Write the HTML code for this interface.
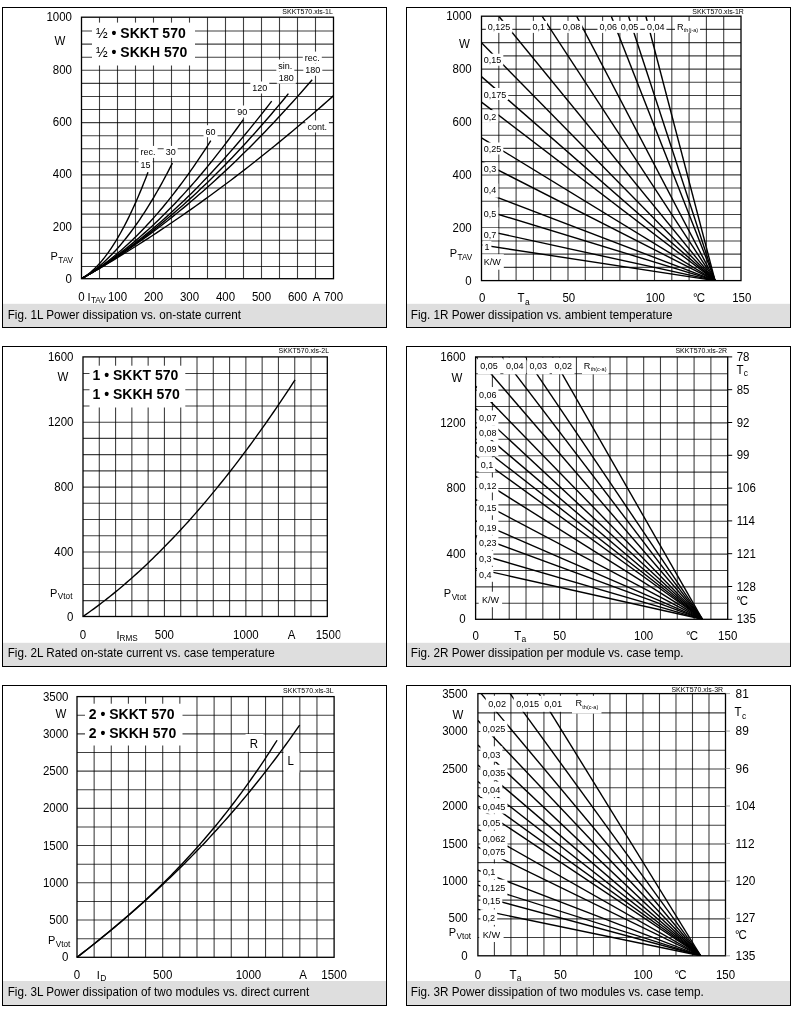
<!DOCTYPE html>
<html><head><meta charset="utf-8"><style>
html,body{margin:0;padding:0;background:#fff;}
svg{display:block;will-change:transform;}
text{font-family:"Liberation Sans", sans-serif;fill:#000;}
</style></head><body>
<svg width="793" height="1010" viewBox="0 0 793 1010">
<rect x="0" y="0" width="793" height="1010" fill="#fff"/>
<rect x="3" y="303.8" width="383" height="23.2" fill="#dedede"/>
<rect x="2.5" y="7.5" width="384" height="320" fill="none" stroke="#000" stroke-width="1"/>
<text transform="translate(7.7 318.7) scale(1 1.04)" font-size="11.7">Fig. 1L Power dissipation vs. on-state current</text>
<text transform="translate(332.8 14.3) scale(1 1.07)" font-size="7" text-anchor="end">SKKT570.xls-1L</text>
<line x1="99.5" y1="17.2" x2="99.5" y2="278.7" stroke="#000" stroke-width="1.1" stroke-opacity="0.75"/>
<line x1="117.5" y1="17.2" x2="117.5" y2="278.7" stroke="#000" stroke-width="1.1" stroke-opacity="0.75"/>
<line x1="135.5" y1="17.2" x2="135.5" y2="278.7" stroke="#000" stroke-width="1.1" stroke-opacity="0.75"/>
<line x1="153.5" y1="17.2" x2="153.5" y2="278.7" stroke="#000" stroke-width="1.1" stroke-opacity="0.75"/>
<line x1="171.5" y1="17.2" x2="171.5" y2="278.7" stroke="#000" stroke-width="1.1" stroke-opacity="0.75"/>
<line x1="189.5" y1="17.2" x2="189.5" y2="278.7" stroke="#000" stroke-width="1.1" stroke-opacity="0.75"/>
<line x1="207.5" y1="17.2" x2="207.5" y2="278.7" stroke="#000" stroke-width="1.1" stroke-opacity="0.75"/>
<line x1="225.5" y1="17.2" x2="225.5" y2="278.7" stroke="#000" stroke-width="1.1" stroke-opacity="0.75"/>
<line x1="243.5" y1="17.2" x2="243.5" y2="278.7" stroke="#000" stroke-width="1.1" stroke-opacity="0.75"/>
<line x1="261.5" y1="17.2" x2="261.5" y2="278.7" stroke="#000" stroke-width="1.1" stroke-opacity="0.75"/>
<line x1="279.5" y1="17.2" x2="279.5" y2="278.7" stroke="#000" stroke-width="1.1" stroke-opacity="0.75"/>
<line x1="297.5" y1="17.2" x2="297.5" y2="278.7" stroke="#000" stroke-width="1.1" stroke-opacity="0.75"/>
<line x1="315.5" y1="17.2" x2="315.5" y2="278.7" stroke="#000" stroke-width="1.1" stroke-opacity="0.75"/>
<line x1="81.5" y1="31.07" x2="333.5" y2="31.07" stroke="#000" stroke-width="1.1" stroke-opacity="0.75"/>
<line x1="81.5" y1="44.15" x2="333.5" y2="44.15" stroke="#000" stroke-width="1.1" stroke-opacity="0.75"/>
<line x1="81.5" y1="57.22" x2="333.5" y2="57.22" stroke="#000" stroke-width="1.1" stroke-opacity="0.75"/>
<line x1="81.5" y1="70.3" x2="333.5" y2="70.3" stroke="#000" stroke-width="1.1" stroke-opacity="0.75"/>
<line x1="81.5" y1="83.38" x2="333.5" y2="83.38" stroke="#000" stroke-width="1.1" stroke-opacity="0.75"/>
<line x1="81.5" y1="96.45" x2="333.5" y2="96.45" stroke="#000" stroke-width="1.1" stroke-opacity="0.75"/>
<line x1="81.5" y1="109.53" x2="333.5" y2="109.53" stroke="#000" stroke-width="1.1" stroke-opacity="0.75"/>
<line x1="81.5" y1="122.6" x2="333.5" y2="122.6" stroke="#000" stroke-width="1.1" stroke-opacity="0.75"/>
<line x1="81.5" y1="135.68" x2="333.5" y2="135.68" stroke="#000" stroke-width="1.1" stroke-opacity="0.75"/>
<line x1="81.5" y1="148.75" x2="333.5" y2="148.75" stroke="#000" stroke-width="1.1" stroke-opacity="0.75"/>
<line x1="81.5" y1="161.82" x2="333.5" y2="161.82" stroke="#000" stroke-width="1.1" stroke-opacity="0.75"/>
<line x1="81.5" y1="174.9" x2="333.5" y2="174.9" stroke="#000" stroke-width="1.1" stroke-opacity="0.75"/>
<line x1="81.5" y1="187.97" x2="333.5" y2="187.97" stroke="#000" stroke-width="1.1" stroke-opacity="0.75"/>
<line x1="81.5" y1="201.05" x2="333.5" y2="201.05" stroke="#000" stroke-width="1.1" stroke-opacity="0.75"/>
<line x1="81.5" y1="214.12" x2="333.5" y2="214.12" stroke="#000" stroke-width="1.1" stroke-opacity="0.75"/>
<line x1="81.5" y1="227.2" x2="333.5" y2="227.2" stroke="#000" stroke-width="1.1" stroke-opacity="0.75"/>
<line x1="81.5" y1="240.28" x2="333.5" y2="240.28" stroke="#000" stroke-width="1.1" stroke-opacity="0.75"/>
<line x1="81.5" y1="253.35" x2="333.5" y2="253.35" stroke="#000" stroke-width="1.1" stroke-opacity="0.75"/>
<line x1="81.5" y1="266.43" x2="333.5" y2="266.43" stroke="#000" stroke-width="1.1" stroke-opacity="0.75"/>
<clipPath id="c1l"><rect x="81.5" y="17.2" width="252" height="261.5"/></clipPath>
<path d="M81.5 278.7 L82.63 278.05 L83.75 277.35 L84.88 276.62 L86.01 275.85 L87.13 275.04 L88.26 274.18 L89.39 273.29 L90.52 272.36 L91.64 271.39 L92.77 270.38 L93.9 269.33 L95.02 268.24 L96.15 267.11 L97.28 265.94 L98.4 264.73 L99.53 263.48 L100.66 262.2 L101.79 260.87 L102.91 259.5 L104.04 258.09 L105.17 256.65 L106.29 255.16 L107.42 253.63 L108.55 252.07 L109.67 250.46 L110.8 248.82 L111.93 247.13 L113.06 245.41 L114.18 243.64 L115.31 241.84 L116.44 240 L117.56 238.11 L118.69 236.19 L119.82 234.23 L120.94 232.22 L122.07 230.18 L123.2 228.1 L124.33 225.98 L125.45 223.82 L126.58 221.62 L127.71 219.38 L128.83 217.1 L129.96 214.78 L131.09 212.42 L132.21 210.02 L133.34 207.58 L134.47 205.1 L135.6 202.59 L136.72 200.03 L137.85 197.43 L138.98 194.79 L140.1 192.12 L141.23 189.4 L142.36 186.64 L143.48 183.85 L144.61 181.01 L145.74 178.14 L146.87 175.22 L147.99 172.27" fill="none" stroke="#000" stroke-width="1.4" stroke-linejoin="round" clip-path="url(#c1l)"/>
<path d="M81.5 278.7 L83.04 277.82 L84.58 276.89 L86.12 275.93 L87.66 274.94 L89.2 273.91 L90.74 272.84 L92.28 271.73 L93.83 270.58 L95.37 269.4 L96.91 268.18 L98.45 266.93 L99.99 265.64 L101.53 264.31 L103.07 262.94 L104.61 261.54 L106.15 260.1 L107.69 258.62 L109.23 257.1 L110.77 255.55 L112.31 253.96 L113.85 252.34 L115.39 250.67 L116.94 248.97 L118.48 247.23 L120.02 245.46 L121.56 243.65 L123.1 241.8 L124.64 239.91 L126.18 237.99 L127.72 236.03 L129.26 234.04 L130.8 232 L132.34 229.93 L133.88 227.82 L135.42 225.68 L136.96 223.49 L138.51 221.28 L140.05 219.02 L141.59 216.73 L143.13 214.4 L144.67 212.03 L146.21 209.62 L147.75 207.18 L149.29 204.7 L150.83 202.19 L152.37 199.63 L153.91 197.04 L155.45 194.42 L156.99 191.75 L158.53 189.05 L160.07 186.31 L161.62 183.54 L163.16 180.73 L164.7 177.88 L166.24 174.99 L167.78 172.07 L169.32 169.1 L170.86 166.11 L172.4 163.07" fill="none" stroke="#000" stroke-width="1.4" stroke-linejoin="round" clip-path="url(#c1l)"/>
<path d="M81.5 278.7 L83.69 277.45 L85.88 276.16 L88.08 274.83 L90.27 273.47 L92.46 272.07 L94.65 270.63 L96.84 269.16 L99.03 267.64 L101.23 266.09 L103.42 264.5 L105.61 262.88 L107.8 261.21 L109.99 259.51 L112.18 257.77 L114.38 256 L116.57 254.18 L118.76 252.33 L120.95 250.44 L123.14 248.52 L125.33 246.55 L127.53 244.55 L129.72 242.51 L131.91 240.44 L134.1 238.32 L136.29 236.17 L138.48 233.98 L140.68 231.76 L142.87 229.49 L145.06 227.19 L147.25 224.85 L149.44 222.48 L151.64 220.06 L153.83 217.61 L156.02 215.12 L158.21 212.6 L160.4 210.03 L162.59 207.43 L164.79 204.79 L166.98 202.12 L169.17 199.4 L171.36 196.65 L173.55 193.86 L175.74 191.04 L177.94 188.17 L180.13 185.27 L182.32 182.33 L184.51 179.35 L186.7 176.34 L188.89 173.29 L191.09 170.2 L193.28 167.07 L195.47 163.91 L197.66 160.71 L199.85 157.47 L202.05 154.19 L204.24 150.88 L206.43 147.53 L208.62 144.14 L210.81 140.71" fill="none" stroke="#000" stroke-width="1.4" stroke-linejoin="round" clip-path="url(#c1l)"/>
<path d="M81.5 278.7 L84.24 277.14 L86.98 275.54 L89.73 273.9 L92.47 272.22 L95.21 270.5 L97.95 268.75 L100.69 266.95 L103.44 265.11 L106.18 263.24 L108.92 261.33 L111.66 259.37 L114.41 257.38 L117.15 255.35 L119.89 253.28 L122.63 251.17 L125.37 249.02 L128.12 246.84 L130.86 244.61 L133.6 242.34 L136.34 240.04 L139.08 237.69 L141.83 235.31 L144.57 232.89 L147.31 230.43 L150.05 227.93 L152.79 225.39 L155.54 222.81 L158.28 220.19 L161.02 217.53 L163.76 214.84 L166.51 212.1 L169.25 209.33 L171.99 206.51 L174.73 203.66 L177.47 200.77 L180.22 197.83 L182.96 194.86 L185.7 191.86 L188.44 188.81 L191.18 185.72 L193.93 182.59 L196.67 179.43 L199.41 176.22 L202.15 172.98 L204.89 169.69 L207.64 166.37 L210.38 163.01 L213.12 159.61 L215.86 156.17 L218.61 152.69 L221.35 149.17 L224.09 145.61 L226.83 142.01 L229.57 138.38 L232.32 134.7 L235.06 130.99 L237.8 127.24 L240.54 123.44 L243.28 119.61" fill="none" stroke="#000" stroke-width="1.4" stroke-linejoin="round" clip-path="url(#c1l)"/>
<path d="M81.5 278.7 L84.72 276.87 L87.95 274.99 L91.17 273.08 L94.39 271.13 L97.62 269.13 L100.84 267.1 L104.06 265.02 L107.29 262.9 L110.51 260.75 L113.74 258.55 L116.96 256.31 L120.18 254.03 L123.41 251.71 L126.63 249.35 L129.85 246.95 L133.08 244.51 L136.3 242.03 L139.52 239.51 L142.75 236.94 L145.97 234.34 L149.19 231.69 L152.42 229.01 L155.64 226.29 L158.86 223.52 L162.09 220.71 L165.31 217.87 L168.54 214.98 L171.76 212.05 L174.98 209.08 L178.21 206.07 L181.43 203.02 L184.65 199.93 L187.88 196.8 L191.1 193.63 L194.32 190.42 L197.55 187.17 L200.77 183.87 L203.99 180.54 L207.22 177.16 L210.44 173.75 L213.66 170.29 L216.89 166.8 L220.11 163.26 L223.34 159.68 L226.56 156.07 L229.78 152.41 L233.01 148.71 L236.23 144.97 L239.45 141.19 L242.68 137.37 L245.9 133.51 L249.12 129.61 L252.35 125.66 L255.57 121.68 L258.79 117.66 L262.02 113.59 L265.24 109.49 L268.46 105.34 L271.69 101.16" fill="none" stroke="#000" stroke-width="1.4" stroke-linejoin="round" clip-path="url(#c1l)"/>
<path d="M81.5 278.7 L85.01 276.71 L88.51 274.68 L92.02 272.61 L95.53 270.5 L99.03 268.35 L102.54 266.16 L106.05 263.93 L109.55 261.66 L113.06 259.36 L116.57 257.01 L120.07 254.62 L123.58 252.2 L127.09 249.73 L130.59 247.23 L134.1 244.69 L137.61 242.1 L141.11 239.48 L144.62 236.82 L148.13 234.11 L151.63 231.37 L155.14 228.59 L158.65 225.77 L162.15 222.91 L165.66 220.01 L169.17 217.07 L172.67 214.1 L176.18 211.08 L179.69 208.02 L183.19 204.92 L186.7 201.79 L190.21 198.61 L193.71 195.4 L197.22 192.14 L200.73 188.85 L204.23 185.52 L207.74 182.14 L211.25 178.73 L214.75 175.28 L218.26 171.79 L221.77 168.25 L225.27 164.68 L228.78 161.07 L232.29 157.43 L235.79 153.74 L239.3 150.01 L242.81 146.24 L246.31 142.43 L249.82 138.59 L253.33 134.7 L256.83 130.77 L260.34 126.81 L263.85 122.8 L267.35 118.76 L270.86 114.68 L274.37 110.55 L277.87 106.39 L281.38 102.19 L284.89 97.95 L288.39 93.66" fill="none" stroke="#000" stroke-width="1.4" stroke-linejoin="round" clip-path="url(#c1l)"/>
<path d="M81.5 278.7 L85.41 276.48 L89.32 274.22 L93.23 271.93 L97.14 269.59 L101.05 267.21 L104.96 264.79 L108.87 262.34 L112.78 259.84 L116.69 257.3 L120.6 254.73 L124.51 252.11 L128.42 249.46 L132.33 246.76 L136.24 244.02 L140.15 241.25 L144.06 238.43 L147.97 235.58 L151.88 232.68 L155.79 229.75 L159.7 226.78 L163.61 223.76 L167.52 220.71 L171.43 217.61 L175.34 214.48 L179.25 211.31 L183.16 208.09 L187.07 204.84 L190.98 201.55 L194.89 198.22 L198.8 194.84 L202.71 191.43 L206.62 187.98 L210.53 184.49 L214.44 180.96 L218.35 177.39 L222.26 173.78 L226.17 170.13 L230.08 166.44 L233.99 162.7 L237.9 158.93 L241.81 155.12 L245.72 151.28 L249.63 147.39 L253.54 143.46 L257.45 139.49 L261.36 135.48 L265.27 131.43 L269.18 127.34 L273.09 123.21 L277 119.05 L280.91 114.84 L284.82 110.59 L288.73 106.3 L292.64 101.98 L296.55 97.61 L300.46 93.2 L304.37 88.75 L308.28 84.27 L312.19 79.74" fill="none" stroke="#000" stroke-width="1.4" stroke-linejoin="round" clip-path="url(#c1l)"/>
<path d="M81.5 278.7 L85.89 276.22 L90.29 273.71 L94.68 271.18 L99.07 268.62 L103.47 266.04 L107.86 263.43 L112.25 260.79 L116.65 258.14 L121.04 255.45 L125.43 252.74 L129.83 250.01 L134.22 247.25 L138.61 244.47 L143.01 241.66 L147.4 238.82 L151.79 235.97 L156.18 233.08 L160.58 230.17 L164.97 227.24 L169.36 224.28 L173.76 221.29 L178.15 218.28 L182.54 215.25 L186.94 212.19 L191.33 209.1 L195.72 205.99 L200.12 202.85 L204.51 199.69 L208.9 196.51 L213.3 193.3 L217.69 190.06 L222.08 186.8 L226.48 183.51 L230.87 180.2 L235.26 176.87 L239.66 173.5 L244.05 170.12 L248.44 166.71 L252.84 163.27 L257.23 159.81 L261.62 156.32 L266.02 152.81 L270.41 149.27 L274.8 145.71 L279.19 142.12 L283.59 138.51 L287.98 134.87 L292.37 131.2 L296.77 127.52 L301.16 123.8 L305.55 120.06 L309.95 116.3 L314.34 112.51 L318.73 108.7 L323.13 104.86 L327.52 101 L331.91 97.11 L336.31 93.19 L340.7 89.25" fill="none" stroke="#000" stroke-width="1.4" stroke-linejoin="round" clip-path="url(#c1l)"/>
<rect x="92" y="22.6" width="103" height="42.9" fill="#fff"/>
<text x="96" y="38.4" font-size="14" font-weight="bold"><tspan font-weight="normal">½</tspan> • SKKT 570</text>
<text x="96" y="57.4" font-size="14" font-weight="bold"><tspan font-weight="normal">½</tspan> • SKKH 570</text>
<rect x="138.6" y="145.9" width="19" height="12" fill="#fff"/>
<text transform="translate(140.6 155.4) scale(1 1.07)" font-size="9">rec.</text>
<rect x="138.6" y="158.3" width="14.01" height="12" fill="#fff"/>
<text transform="translate(140.6 167.8) scale(1 1.07)" font-size="9">15</text>
<rect x="163.7" y="145.9" width="14.01" height="12" fill="#fff"/>
<text transform="translate(165.7 155.4) scale(1 1.07)" font-size="9">30</text>
<rect x="203.5" y="125.2" width="14.01" height="12" fill="#fff"/>
<text transform="translate(205.5 134.7) scale(1 1.07)" font-size="9">60</text>
<rect x="235.3" y="105.5" width="14.01" height="12" fill="#fff"/>
<text transform="translate(237.3 115) scale(1 1.07)" font-size="9">90</text>
<rect x="250.3" y="81.5" width="19.01" height="12" fill="#fff"/>
<text transform="translate(252.3 91) scale(1 1.07)" font-size="9">120</text>
<rect x="276.3" y="59.5" width="18" height="12" fill="#fff"/>
<text transform="translate(278.3 69) scale(1 1.07)" font-size="9">sin.</text>
<rect x="276.8" y="71.7" width="19.01" height="12" fill="#fff"/>
<text transform="translate(278.8 81.2) scale(1 1.07)" font-size="9">180</text>
<rect x="302.8" y="51.6" width="19" height="12" fill="#fff"/>
<text transform="translate(304.8 61.1) scale(1 1.07)" font-size="9">rec.</text>
<rect x="303.3" y="63.8" width="19.01" height="12" fill="#fff"/>
<text transform="translate(305.3 73.3) scale(1 1.07)" font-size="9">180</text>
<rect x="305.4" y="120.4" width="23.51" height="12" fill="#fff"/>
<text transform="translate(307.4 129.9) scale(1 1.07)" font-size="9">cont.</text>
<rect x="81.5" y="17.2" width="252" height="261.5" fill="none" stroke="#000" stroke-width="1.3"/>
<text transform="translate(72 21.3) scale(1 1.07)" font-size="11.5" text-anchor="end">1000</text>
<text transform="translate(72 73.6) scale(1 1.07)" font-size="11.5" text-anchor="end">800</text>
<text transform="translate(72 125.9) scale(1 1.07)" font-size="11.5" text-anchor="end">600</text>
<text transform="translate(72 178.2) scale(1 1.07)" font-size="11.5" text-anchor="end">400</text>
<text transform="translate(72 230.5) scale(1 1.07)" font-size="11.5" text-anchor="end">200</text>
<text transform="translate(72 282.8) scale(1 1.07)" font-size="11.5" text-anchor="end">0</text>
<text transform="translate(60 44.9) scale(1 1.07)" font-size="11.5" text-anchor="middle">W</text>
<text transform="translate(50.4 260) scale(1 1.07)" font-size="11">P</text>
<text transform="translate(58.24 262.6) scale(1 1.07)" font-size="8.2">TAV</text>
<text transform="translate(81.5 300.5) scale(1 1.07)" font-size="11.5" text-anchor="middle">0</text>
<text transform="translate(87.6 300.5) scale(1 1.07)" font-size="11">I</text>
<text transform="translate(90.96 303.3) scale(1 1.07)" font-size="8.2">TAV</text>
<text transform="translate(117.5 300.5) scale(1 1.07)" font-size="11.5" text-anchor="middle">100</text>
<text transform="translate(153.5 300.5) scale(1 1.07)" font-size="11.5" text-anchor="middle">200</text>
<text transform="translate(189.5 300.5) scale(1 1.07)" font-size="11.5" text-anchor="middle">300</text>
<text transform="translate(225.5 300.5) scale(1 1.07)" font-size="11.5" text-anchor="middle">400</text>
<text transform="translate(261.5 300.5) scale(1 1.07)" font-size="11.5" text-anchor="middle">500</text>
<text transform="translate(297.5 300.5) scale(1 1.07)" font-size="11.5" text-anchor="middle">600</text>
<text transform="translate(333.5 300.5) scale(1 1.07)" font-size="11.5" text-anchor="middle">700</text>
<text transform="translate(316.5 300.5) scale(1 1.07)" font-size="11.5" text-anchor="middle">A</text>
<rect x="407" y="303.8" width="383" height="23.2" fill="#dedede"/>
<rect x="406.5" y="7.5" width="384" height="320" fill="none" stroke="#000" stroke-width="1"/>
<text transform="translate(410.8 318.7) scale(1 1.04)" font-size="11.7">Fig. 1R Power dissipation vs. ambient temperature</text>
<text transform="translate(743.9 14) scale(1 1.12)" font-size="7" text-anchor="end">SKKT570.xls-1R</text>
<line x1="498.8" y1="16.2" x2="498.8" y2="280.6" stroke="#000" stroke-width="1.1" stroke-opacity="0.75"/>
<line x1="516.1" y1="16.2" x2="516.1" y2="280.6" stroke="#000" stroke-width="1.1" stroke-opacity="0.75"/>
<line x1="533.4" y1="16.2" x2="533.4" y2="280.6" stroke="#000" stroke-width="1.1" stroke-opacity="0.75"/>
<line x1="550.7" y1="16.2" x2="550.7" y2="280.6" stroke="#000" stroke-width="1.1" stroke-opacity="0.75"/>
<line x1="568" y1="16.2" x2="568" y2="280.6" stroke="#000" stroke-width="1.1" stroke-opacity="0.75"/>
<line x1="585.3" y1="16.2" x2="585.3" y2="280.6" stroke="#000" stroke-width="1.1" stroke-opacity="0.75"/>
<line x1="602.6" y1="16.2" x2="602.6" y2="280.6" stroke="#000" stroke-width="1.1" stroke-opacity="0.75"/>
<line x1="619.9" y1="16.2" x2="619.9" y2="280.6" stroke="#000" stroke-width="1.1" stroke-opacity="0.75"/>
<line x1="637.2" y1="16.2" x2="637.2" y2="280.6" stroke="#000" stroke-width="1.1" stroke-opacity="0.75"/>
<line x1="654.5" y1="16.2" x2="654.5" y2="280.6" stroke="#000" stroke-width="1.1" stroke-opacity="0.75"/>
<line x1="671.8" y1="16.2" x2="671.8" y2="280.6" stroke="#000" stroke-width="1.1" stroke-opacity="0.75"/>
<line x1="689.1" y1="16.2" x2="689.1" y2="280.6" stroke="#000" stroke-width="1.1" stroke-opacity="0.75"/>
<line x1="706.4" y1="16.2" x2="706.4" y2="280.6" stroke="#000" stroke-width="1.1" stroke-opacity="0.75"/>
<line x1="723.7" y1="16.2" x2="723.7" y2="280.6" stroke="#000" stroke-width="1.1" stroke-opacity="0.75"/>
<line x1="481.5" y1="29.42" x2="741" y2="29.42" stroke="#000" stroke-width="1.1" stroke-opacity="0.75"/>
<line x1="481.5" y1="42.64" x2="741" y2="42.64" stroke="#000" stroke-width="1.1" stroke-opacity="0.75"/>
<line x1="481.5" y1="55.86" x2="741" y2="55.86" stroke="#000" stroke-width="1.1" stroke-opacity="0.75"/>
<line x1="481.5" y1="69.08" x2="741" y2="69.08" stroke="#000" stroke-width="1.1" stroke-opacity="0.75"/>
<line x1="481.5" y1="82.3" x2="741" y2="82.3" stroke="#000" stroke-width="1.1" stroke-opacity="0.75"/>
<line x1="481.5" y1="95.52" x2="741" y2="95.52" stroke="#000" stroke-width="1.1" stroke-opacity="0.75"/>
<line x1="481.5" y1="108.74" x2="741" y2="108.74" stroke="#000" stroke-width="1.1" stroke-opacity="0.75"/>
<line x1="481.5" y1="121.96" x2="741" y2="121.96" stroke="#000" stroke-width="1.1" stroke-opacity="0.75"/>
<line x1="481.5" y1="135.18" x2="741" y2="135.18" stroke="#000" stroke-width="1.1" stroke-opacity="0.75"/>
<line x1="481.5" y1="148.4" x2="741" y2="148.4" stroke="#000" stroke-width="1.1" stroke-opacity="0.75"/>
<line x1="481.5" y1="161.62" x2="741" y2="161.62" stroke="#000" stroke-width="1.1" stroke-opacity="0.75"/>
<line x1="481.5" y1="174.84" x2="741" y2="174.84" stroke="#000" stroke-width="1.1" stroke-opacity="0.75"/>
<line x1="481.5" y1="188.06" x2="741" y2="188.06" stroke="#000" stroke-width="1.1" stroke-opacity="0.75"/>
<line x1="481.5" y1="201.28" x2="741" y2="201.28" stroke="#000" stroke-width="1.1" stroke-opacity="0.75"/>
<line x1="481.5" y1="214.5" x2="741" y2="214.5" stroke="#000" stroke-width="1.1" stroke-opacity="0.75"/>
<line x1="481.5" y1="227.72" x2="741" y2="227.72" stroke="#000" stroke-width="1.1" stroke-opacity="0.75"/>
<line x1="481.5" y1="240.94" x2="741" y2="240.94" stroke="#000" stroke-width="1.1" stroke-opacity="0.75"/>
<line x1="481.5" y1="254.16" x2="741" y2="254.16" stroke="#000" stroke-width="1.1" stroke-opacity="0.75"/>
<line x1="481.5" y1="267.38" x2="741" y2="267.38" stroke="#000" stroke-width="1.1" stroke-opacity="0.75"/>
<clipPath id="c1r"><rect x="481.5" y="16.2" width="259.5" height="264.4"/></clipPath>
<path d="M645.85 16.2 L715.05 280.6" fill="none" stroke="#000" stroke-width="1.4" stroke-linejoin="round" clip-path="url(#c1r)"/>
<path d="M628.55 16.2 L715.05 280.6" fill="none" stroke="#000" stroke-width="1.4" stroke-linejoin="round" clip-path="url(#c1r)"/>
<path d="M611.25 16.2 L715.05 280.6" fill="none" stroke="#000" stroke-width="1.4" stroke-linejoin="round" clip-path="url(#c1r)"/>
<path d="M576.65 16.2 L715.05 280.6" fill="none" stroke="#000" stroke-width="1.4" stroke-linejoin="round" clip-path="url(#c1r)"/>
<path d="M542.05 16.2 L715.05 280.6" fill="none" stroke="#000" stroke-width="1.4" stroke-linejoin="round" clip-path="url(#c1r)"/>
<path d="M498.8 16.2 L715.05 280.6" fill="none" stroke="#000" stroke-width="1.4" stroke-linejoin="round" clip-path="url(#c1r)"/>
<path d="M481.5 42.64 L715.05 280.6" fill="none" stroke="#000" stroke-width="1.4" stroke-linejoin="round" clip-path="url(#c1r)"/>
<path d="M481.5 76.63 L715.05 280.6" fill="none" stroke="#000" stroke-width="1.4" stroke-linejoin="round" clip-path="url(#c1r)"/>
<path d="M481.5 102.13 L715.05 280.6" fill="none" stroke="#000" stroke-width="1.4" stroke-linejoin="round" clip-path="url(#c1r)"/>
<path d="M481.5 137.82 L715.05 280.6" fill="none" stroke="#000" stroke-width="1.4" stroke-linejoin="round" clip-path="url(#c1r)"/>
<path d="M481.5 161.62 L715.05 280.6" fill="none" stroke="#000" stroke-width="1.4" stroke-linejoin="round" clip-path="url(#c1r)"/>
<path d="M481.5 191.37 L715.05 280.6" fill="none" stroke="#000" stroke-width="1.4" stroke-linejoin="round" clip-path="url(#c1r)"/>
<path d="M481.5 209.21 L715.05 280.6" fill="none" stroke="#000" stroke-width="1.4" stroke-linejoin="round" clip-path="url(#c1r)"/>
<path d="M481.5 229.61 L715.05 280.6" fill="none" stroke="#000" stroke-width="1.4" stroke-linejoin="round" clip-path="url(#c1r)"/>
<path d="M481.5 244.91 L715.05 280.6" fill="none" stroke="#000" stroke-width="1.4" stroke-linejoin="round" clip-path="url(#c1r)"/>
<rect x="485.8" y="20.9" width="26.52" height="12" fill="#fff"/>
<text transform="translate(487.8 30.4) scale(1 1.07)" font-size="9">0,125</text>
<rect x="530.5" y="20.9" width="16.51" height="12" fill="#fff"/>
<text transform="translate(532.5 30.4) scale(1 1.07)" font-size="9">0,1</text>
<rect x="560.7" y="20.9" width="21.51" height="12" fill="#fff"/>
<text transform="translate(562.7 30.4) scale(1 1.07)" font-size="9">0,08</text>
<rect x="597.5" y="20.9" width="21.51" height="12" fill="#fff"/>
<text transform="translate(599.5 30.4) scale(1 1.07)" font-size="9">0,06</text>
<rect x="618.7" y="20.9" width="21.51" height="12" fill="#fff"/>
<text transform="translate(620.7 30.4) scale(1 1.07)" font-size="9">0,05</text>
<rect x="644.9" y="20.9" width="21.51" height="12" fill="#fff"/>
<text transform="translate(646.9 30.4) scale(1 1.07)" font-size="9">0,04</text>
<rect x="675" y="20.9" width="25" height="12" fill="#fff"/>
<text transform="translate(677 29.5) scale(1 1.07)" font-size="9.2">R</text>
<text transform="translate(683.84 31.7) scale(1 1.07)" font-size="5.5">th(j-a)</text>
<rect x="481.8" y="53.7" width="21.51" height="12" fill="#fff"/>
<text transform="translate(483.8 63.2) scale(1 1.07)" font-size="9">0,15</text>
<rect x="481.8" y="88" width="26.52" height="12" fill="#fff"/>
<text transform="translate(483.8 97.5) scale(1 1.07)" font-size="9">0,175</text>
<rect x="481.8" y="110.1" width="16.51" height="12.8" fill="#fff"/>
<text transform="translate(483.8 119.6) scale(1 1.07)" font-size="9">0,2</text>
<rect x="481.8" y="142.5" width="21.51" height="12" fill="#fff"/>
<text transform="translate(483.8 152) scale(1 1.07)" font-size="9">0,25</text>
<rect x="481.8" y="162.4" width="16.51" height="12" fill="#fff"/>
<text transform="translate(483.8 171.9) scale(1 1.07)" font-size="9">0,3</text>
<rect x="481.8" y="183.6" width="16.51" height="14.1" fill="#fff"/>
<text transform="translate(483.8 193.1) scale(1 1.07)" font-size="9">0,4</text>
<rect x="481.8" y="207.4" width="16.51" height="12" fill="#fff"/>
<text transform="translate(483.8 216.9) scale(1 1.07)" font-size="9">0,5</text>
<rect x="481.8" y="228" width="16.51" height="12" fill="#fff"/>
<text transform="translate(483.8 237.5) scale(1 1.07)" font-size="9">0,7</text>
<rect x="482.4" y="240.9" width="9" height="12" fill="#fff"/>
<text transform="translate(484.4 250.4) scale(1 1.07)" font-size="9">1</text>
<rect x="480.8" y="254.2" width="23" height="15.5" fill="#fff"/>
<text transform="translate(483.8 265.2) scale(1 1.07)" font-size="9">K/W</text>
<rect x="481.5" y="16.2" width="259.5" height="264.4" fill="none" stroke="#000" stroke-width="1.3"/>
<text transform="translate(471.7 20.3) scale(1 1.07)" font-size="11.5" text-anchor="end">1000</text>
<text transform="translate(471.7 73.18) scale(1 1.07)" font-size="11.5" text-anchor="end">800</text>
<text transform="translate(471.7 126.06) scale(1 1.07)" font-size="11.5" text-anchor="end">600</text>
<text transform="translate(471.7 178.94) scale(1 1.07)" font-size="11.5" text-anchor="end">400</text>
<text transform="translate(471.7 231.82) scale(1 1.07)" font-size="11.5" text-anchor="end">200</text>
<text transform="translate(471.7 284.7) scale(1 1.07)" font-size="11.5" text-anchor="end">0</text>
<text transform="translate(464.5 47.7) scale(1 1.07)" font-size="11.5" text-anchor="middle">W</text>
<text transform="translate(449.7 257.4) scale(1 1.07)" font-size="11">P</text>
<text transform="translate(457.54 260) scale(1 1.07)" font-size="8.2">TAV</text>
<text transform="translate(482.3 302.3) scale(1 1.07)" font-size="11.5" text-anchor="middle">0</text>
<text transform="translate(517.6 302.3) scale(1 1.07)" font-size="11.5">T</text>
<text transform="translate(524.93 305.1) scale(1 1.07)" font-size="8.5">a</text>
<text transform="translate(568.8 302.3) scale(1 1.07)" font-size="11.5" text-anchor="middle">50</text>
<text transform="translate(655.3 302.3) scale(1 1.07)" font-size="11.5" text-anchor="middle">100</text>
<text transform="translate(741.8 302.3) scale(1 1.07)" font-size="11.5" text-anchor="middle">150</text>
<text transform="translate(699 302.3) scale(1 1.07)" font-size="11.5" text-anchor="middle">°<tspan dx="-1">C</tspan></text>
<rect x="3" y="642.8" width="383" height="23.2" fill="#dedede"/>
<rect x="2.5" y="346.5" width="384" height="320" fill="none" stroke="#000" stroke-width="1"/>
<text transform="translate(7.7 656.6) scale(1 1.04)" font-size="11.7">Fig. 2L Rated on-state current vs. case temperature</text>
<text transform="translate(329.1 353.1) scale(1 1.07)" font-size="7" text-anchor="end">SKKT570.xls-2L</text>
<line x1="99.29" y1="356.9" x2="99.29" y2="616.5" stroke="#000" stroke-width="1.1" stroke-opacity="0.75"/>
<line x1="115.57" y1="356.9" x2="115.57" y2="616.5" stroke="#000" stroke-width="1.1" stroke-opacity="0.75"/>
<line x1="131.86" y1="356.9" x2="131.86" y2="616.5" stroke="#000" stroke-width="1.1" stroke-opacity="0.75"/>
<line x1="148.15" y1="356.9" x2="148.15" y2="616.5" stroke="#000" stroke-width="1.1" stroke-opacity="0.75"/>
<line x1="164.43" y1="356.9" x2="164.43" y2="616.5" stroke="#000" stroke-width="1.1" stroke-opacity="0.75"/>
<line x1="180.72" y1="356.9" x2="180.72" y2="616.5" stroke="#000" stroke-width="1.1" stroke-opacity="0.75"/>
<line x1="197.01" y1="356.9" x2="197.01" y2="616.5" stroke="#000" stroke-width="1.1" stroke-opacity="0.75"/>
<line x1="213.29" y1="356.9" x2="213.29" y2="616.5" stroke="#000" stroke-width="1.1" stroke-opacity="0.75"/>
<line x1="229.58" y1="356.9" x2="229.58" y2="616.5" stroke="#000" stroke-width="1.1" stroke-opacity="0.75"/>
<line x1="245.87" y1="356.9" x2="245.87" y2="616.5" stroke="#000" stroke-width="1.1" stroke-opacity="0.75"/>
<line x1="262.15" y1="356.9" x2="262.15" y2="616.5" stroke="#000" stroke-width="1.1" stroke-opacity="0.75"/>
<line x1="278.44" y1="356.9" x2="278.44" y2="616.5" stroke="#000" stroke-width="1.1" stroke-opacity="0.75"/>
<line x1="294.73" y1="356.9" x2="294.73" y2="616.5" stroke="#000" stroke-width="1.1" stroke-opacity="0.75"/>
<line x1="311.01" y1="356.9" x2="311.01" y2="616.5" stroke="#000" stroke-width="1.1" stroke-opacity="0.75"/>
<line x1="83" y1="373.52" x2="327.3" y2="373.52" stroke="#000" stroke-width="1.1" stroke-opacity="0.75"/>
<line x1="83" y1="389.75" x2="327.3" y2="389.75" stroke="#000" stroke-width="1.1" stroke-opacity="0.75"/>
<line x1="83" y1="405.97" x2="327.3" y2="405.97" stroke="#000" stroke-width="1.1" stroke-opacity="0.75"/>
<line x1="83" y1="422.2" x2="327.3" y2="422.2" stroke="#000" stroke-width="1.1" stroke-opacity="0.75"/>
<line x1="83" y1="438.42" x2="327.3" y2="438.42" stroke="#000" stroke-width="1.1" stroke-opacity="0.75"/>
<line x1="83" y1="454.65" x2="327.3" y2="454.65" stroke="#000" stroke-width="1.1" stroke-opacity="0.75"/>
<line x1="83" y1="470.88" x2="327.3" y2="470.88" stroke="#000" stroke-width="1.1" stroke-opacity="0.75"/>
<line x1="83" y1="487.1" x2="327.3" y2="487.1" stroke="#000" stroke-width="1.1" stroke-opacity="0.75"/>
<line x1="83" y1="503.32" x2="327.3" y2="503.32" stroke="#000" stroke-width="1.1" stroke-opacity="0.75"/>
<line x1="83" y1="519.55" x2="327.3" y2="519.55" stroke="#000" stroke-width="1.1" stroke-opacity="0.75"/>
<line x1="83" y1="535.77" x2="327.3" y2="535.77" stroke="#000" stroke-width="1.1" stroke-opacity="0.75"/>
<line x1="83" y1="552" x2="327.3" y2="552" stroke="#000" stroke-width="1.1" stroke-opacity="0.75"/>
<line x1="83" y1="568.23" x2="327.3" y2="568.23" stroke="#000" stroke-width="1.1" stroke-opacity="0.75"/>
<line x1="83" y1="584.45" x2="327.3" y2="584.45" stroke="#000" stroke-width="1.1" stroke-opacity="0.75"/>
<line x1="83" y1="600.67" x2="327.3" y2="600.67" stroke="#000" stroke-width="1.1" stroke-opacity="0.75"/>
<path d="M83 616.5 L85.68 614.63 L88.37 612.73 L91.05 610.8 L93.74 608.85 L96.42 606.86 L99.11 604.85 L101.79 602.8 L104.47 600.73 L107.16 598.63 L109.84 596.5 L112.53 594.34 L115.21 592.15 L117.89 589.94 L120.58 587.69 L123.26 585.42 L125.95 583.11 L128.63 580.78 L131.32 578.42 L134 576.03 L136.68 573.61 L139.37 571.16 L142.05 568.69 L144.74 566.18 L147.42 563.65 L150.11 561.08 L152.79 558.49 L155.47 555.87 L158.16 553.22 L160.84 550.54 L163.53 547.84 L166.21 545.1 L168.89 542.34 L171.58 539.54 L174.26 536.72 L176.95 533.87 L179.63 530.99 L182.32 528.08 L185 525.14 L187.68 522.17 L190.37 519.18 L193.05 516.15 L195.74 513.1 L198.42 510.01 L201.11 506.9 L203.79 503.76 L206.47 500.59 L209.16 497.39 L211.84 494.17 L214.53 490.91 L217.21 487.63 L219.89 484.31 L222.58 480.97 L225.26 477.6 L227.95 474.2 L230.63 470.77 L233.32 467.31 L236 463.83 L238.68 460.31 L241.37 456.77 L244.05 453.19 L246.74 449.59 L249.42 445.96 L252.11 442.3 L254.79 438.61 L257.47 434.89 L260.16 431.15 L262.84 427.37 L265.53 423.57 L268.21 419.73 L270.89 415.87 L273.58 411.98 L276.26 408.06 L278.95 404.11 L281.63 400.14 L284.32 396.13 L287 392.09 L289.68 388.03 L292.37 383.94 L295.05 379.82" fill="none" stroke="#000" stroke-width="1.4" stroke-linejoin="round"/>
<rect x="89.5" y="365.7" width="95.8" height="41.8" fill="#fff"/>
<text x="92.5" y="380.3" font-size="14" font-weight="bold">1 • SKKT 570</text>
<text x="92.5" y="399" font-size="14" font-weight="bold">1 • SKKH 570</text>
<rect x="83" y="356.9" width="244.3" height="259.6" fill="none" stroke="#000" stroke-width="1.3"/>
<text transform="translate(73.5 361) scale(1 1.07)" font-size="11.5" text-anchor="end">1600</text>
<text transform="translate(73.5 425.9) scale(1 1.07)" font-size="11.5" text-anchor="end">1200</text>
<text transform="translate(73.5 490.8) scale(1 1.07)" font-size="11.5" text-anchor="end">800</text>
<text transform="translate(73.5 555.7) scale(1 1.07)" font-size="11.5" text-anchor="end">400</text>
<text transform="translate(73.5 620.6) scale(1 1.07)" font-size="11.5" text-anchor="end">0</text>
<text transform="translate(63 380.5) scale(1 1.07)" font-size="11.5" text-anchor="middle">W</text>
<text transform="translate(50 596.5) scale(1 1.07)" font-size="11">P</text>
<text transform="translate(57.84 599.1) scale(1 1.07)" font-size="8.2">Vtot</text>
<text transform="translate(83 638.5) scale(1 1.07)" font-size="11.5" text-anchor="middle">0</text>
<text transform="translate(116.5 638.5) scale(1 1.07)" font-size="11">I</text>
<text transform="translate(119.56 641.3) scale(1 1.07)" font-size="8.2">RMS</text>
<text transform="translate(164.43 638.5) scale(1 1.07)" font-size="11.5" text-anchor="middle">500</text>
<text transform="translate(245.87 638.5) scale(1 1.07)" font-size="11.5" text-anchor="middle">1000</text>
<clipPath id="cl2"><rect x="0" y="600" width="340.3" height="50"/></clipPath>
<g clip-path="url(#cl2)">
<text transform="translate(328.5 638.5) scale(1 1.07)" font-size="11.5" text-anchor="middle">1500</text>
</g>
<text transform="translate(291.6 639) scale(1 1.07)" font-size="11.5" text-anchor="middle">A</text>
<rect x="407" y="642.8" width="383" height="23.2" fill="#dedede"/>
<rect x="406.5" y="346.5" width="384" height="320" fill="none" stroke="#000" stroke-width="1"/>
<text transform="translate(410.8 656.6) scale(1 1.04)" font-size="11.7">Fig. 2R Power dissipation per module vs. case temp.</text>
<text transform="translate(727.1 353.1) scale(1 1.07)" font-size="7" text-anchor="end">SKKT570.xls-2R</text>
<line x1="492.41" y1="356.9" x2="492.41" y2="619.3" stroke="#000" stroke-width="1.1" stroke-opacity="0.75"/>
<line x1="509.21" y1="356.9" x2="509.21" y2="619.3" stroke="#000" stroke-width="1.1" stroke-opacity="0.75"/>
<line x1="526.02" y1="356.9" x2="526.02" y2="619.3" stroke="#000" stroke-width="1.1" stroke-opacity="0.75"/>
<line x1="542.83" y1="356.9" x2="542.83" y2="619.3" stroke="#000" stroke-width="1.1" stroke-opacity="0.75"/>
<line x1="559.63" y1="356.9" x2="559.63" y2="619.3" stroke="#000" stroke-width="1.1" stroke-opacity="0.75"/>
<line x1="576.44" y1="356.9" x2="576.44" y2="619.3" stroke="#000" stroke-width="1.1" stroke-opacity="0.75"/>
<line x1="593.25" y1="356.9" x2="593.25" y2="619.3" stroke="#000" stroke-width="1.1" stroke-opacity="0.75"/>
<line x1="610.05" y1="356.9" x2="610.05" y2="619.3" stroke="#000" stroke-width="1.1" stroke-opacity="0.75"/>
<line x1="626.86" y1="356.9" x2="626.86" y2="619.3" stroke="#000" stroke-width="1.1" stroke-opacity="0.75"/>
<line x1="643.67" y1="356.9" x2="643.67" y2="619.3" stroke="#000" stroke-width="1.1" stroke-opacity="0.75"/>
<line x1="660.47" y1="356.9" x2="660.47" y2="619.3" stroke="#000" stroke-width="1.1" stroke-opacity="0.75"/>
<line x1="677.28" y1="356.9" x2="677.28" y2="619.3" stroke="#000" stroke-width="1.1" stroke-opacity="0.75"/>
<line x1="694.09" y1="356.9" x2="694.09" y2="619.3" stroke="#000" stroke-width="1.1" stroke-opacity="0.75"/>
<line x1="710.89" y1="356.9" x2="710.89" y2="619.3" stroke="#000" stroke-width="1.1" stroke-opacity="0.75"/>
<line x1="475.6" y1="373.7" x2="727.7" y2="373.7" stroke="#000" stroke-width="1.1" stroke-opacity="0.75"/>
<line x1="475.6" y1="390.1" x2="727.7" y2="390.1" stroke="#000" stroke-width="1.1" stroke-opacity="0.75"/>
<line x1="475.6" y1="406.5" x2="727.7" y2="406.5" stroke="#000" stroke-width="1.1" stroke-opacity="0.75"/>
<line x1="475.6" y1="422.9" x2="727.7" y2="422.9" stroke="#000" stroke-width="1.1" stroke-opacity="0.75"/>
<line x1="475.6" y1="439.3" x2="727.7" y2="439.3" stroke="#000" stroke-width="1.1" stroke-opacity="0.75"/>
<line x1="475.6" y1="455.7" x2="727.7" y2="455.7" stroke="#000" stroke-width="1.1" stroke-opacity="0.75"/>
<line x1="475.6" y1="472.1" x2="727.7" y2="472.1" stroke="#000" stroke-width="1.1" stroke-opacity="0.75"/>
<line x1="475.6" y1="488.5" x2="727.7" y2="488.5" stroke="#000" stroke-width="1.1" stroke-opacity="0.75"/>
<line x1="475.6" y1="504.9" x2="727.7" y2="504.9" stroke="#000" stroke-width="1.1" stroke-opacity="0.75"/>
<line x1="475.6" y1="521.3" x2="727.7" y2="521.3" stroke="#000" stroke-width="1.1" stroke-opacity="0.75"/>
<line x1="475.6" y1="537.7" x2="727.7" y2="537.7" stroke="#000" stroke-width="1.1" stroke-opacity="0.75"/>
<line x1="475.6" y1="554.1" x2="727.7" y2="554.1" stroke="#000" stroke-width="1.1" stroke-opacity="0.75"/>
<line x1="475.6" y1="570.5" x2="727.7" y2="570.5" stroke="#000" stroke-width="1.1" stroke-opacity="0.75"/>
<line x1="475.6" y1="586.9" x2="727.7" y2="586.9" stroke="#000" stroke-width="1.1" stroke-opacity="0.75"/>
<line x1="475.6" y1="603.3" x2="727.7" y2="603.3" stroke="#000" stroke-width="1.1" stroke-opacity="0.75"/>
<clipPath id="c2r"><rect x="475.6" y="356.9" width="252.1" height="262.4"/></clipPath>
<path d="M552.45 356.9 L702.49 619.3" fill="none" stroke="#000" stroke-width="1.4" stroke-linejoin="round" clip-path="url(#c2r)"/>
<path d="M525.22 356.9 L702.49 619.3" fill="none" stroke="#000" stroke-width="1.4" stroke-linejoin="round" clip-path="url(#c2r)"/>
<path d="M502.36 356.9 L702.49 619.3" fill="none" stroke="#000" stroke-width="1.4" stroke-linejoin="round" clip-path="url(#c2r)"/>
<path d="M476.41 356.9 L702.49 619.3" fill="none" stroke="#000" stroke-width="1.4" stroke-linejoin="round" clip-path="url(#c2r)"/>
<path d="M475.6 386.25 L702.49 619.3" fill="none" stroke="#000" stroke-width="1.4" stroke-linejoin="round" clip-path="url(#c2r)"/>
<path d="M475.6 408.44 L702.49 619.3" fill="none" stroke="#000" stroke-width="1.4" stroke-linejoin="round" clip-path="url(#c2r)"/>
<path d="M475.6 426.78 L702.49 619.3" fill="none" stroke="#000" stroke-width="1.4" stroke-linejoin="round" clip-path="url(#c2r)"/>
<path d="M475.6 442.18 L702.49 619.3" fill="none" stroke="#000" stroke-width="1.4" stroke-linejoin="round" clip-path="url(#c2r)"/>
<path d="M475.6 455.3 L702.49 619.3" fill="none" stroke="#000" stroke-width="1.4" stroke-linejoin="round" clip-path="url(#c2r)"/>
<path d="M475.6 476.46 L702.49 619.3" fill="none" stroke="#000" stroke-width="1.4" stroke-linejoin="round" clip-path="url(#c2r)"/>
<path d="M475.6 499.62 L702.49 619.3" fill="none" stroke="#000" stroke-width="1.4" stroke-linejoin="round" clip-path="url(#c2r)"/>
<path d="M475.6 520.9 L702.49 619.3" fill="none" stroke="#000" stroke-width="1.4" stroke-linejoin="round" clip-path="url(#c2r)"/>
<path d="M475.6 535.75 L702.49 619.3" fill="none" stroke="#000" stroke-width="1.4" stroke-linejoin="round" clip-path="url(#c2r)"/>
<path d="M475.6 553.21 L702.49 619.3" fill="none" stroke="#000" stroke-width="1.4" stroke-linejoin="round" clip-path="url(#c2r)"/>
<path d="M475.6 568.4 L702.49 619.3" fill="none" stroke="#000" stroke-width="1.4" stroke-linejoin="round" clip-path="url(#c2r)"/>
<rect x="477.8" y="357.5" width="22.51" height="16.8" fill="#fff"/>
<text transform="translate(480.3 368.7) scale(1 1.07)" font-size="9">0,05</text>
<rect x="503.4" y="357.5" width="22.51" height="16.8" fill="#fff"/>
<text transform="translate(505.9 368.7) scale(1 1.07)" font-size="9">0,04</text>
<rect x="527.1" y="357.5" width="22.51" height="16.8" fill="#fff"/>
<text transform="translate(529.6 368.7) scale(1 1.07)" font-size="9">0,03</text>
<rect x="552" y="357.5" width="22.51" height="16.8" fill="#fff"/>
<text transform="translate(554.5 368.7) scale(1 1.07)" font-size="9">0,02</text>
<rect x="582" y="357.5" width="26.5" height="16.8" fill="#fff"/>
<text transform="translate(583.8 368.9) scale(1 1.07)" font-size="9.2">R</text>
<text transform="translate(590.64 371.3) scale(1 1.07)" font-size="5.5">th(c-a)</text>
<rect x="476.9" y="387" width="21.51" height="15" fill="#fff"/>
<text transform="translate(478.9 398) scale(1 1.07)" font-size="9">0,06</text>
<rect x="476.9" y="410.4" width="21.51" height="15" fill="#fff"/>
<text transform="translate(478.9 421.4) scale(1 1.07)" font-size="9">0,07</text>
<rect x="476.9" y="425.2" width="21.51" height="15" fill="#fff"/>
<text transform="translate(478.9 436.2) scale(1 1.07)" font-size="9">0,08</text>
<rect x="476.9" y="441.3" width="21.51" height="15" fill="#fff"/>
<text transform="translate(478.9 452.3) scale(1 1.07)" font-size="9">0,09</text>
<rect x="476.9" y="477.5" width="21.51" height="15" fill="#fff"/>
<text transform="translate(478.9 488.5) scale(1 1.07)" font-size="9">0,12</text>
<rect x="476.9" y="500.3" width="21.51" height="15" fill="#fff"/>
<text transform="translate(478.9 511.3) scale(1 1.07)" font-size="9">0,15</text>
<rect x="476.9" y="519.9" width="21.51" height="15" fill="#fff"/>
<text transform="translate(478.9 530.9) scale(1 1.07)" font-size="9">0,19</text>
<rect x="476.9" y="535.3" width="21.51" height="15" fill="#fff"/>
<text transform="translate(478.9 546.3) scale(1 1.07)" font-size="9">0,23</text>
<rect x="476.9" y="550.8" width="16.51" height="15" fill="#fff"/>
<text transform="translate(478.9 561.8) scale(1 1.07)" font-size="9">0,3</text>
<rect x="476.9" y="566.8" width="16.51" height="15" fill="#fff"/>
<text transform="translate(478.9 577.8) scale(1 1.07)" font-size="9">0,4</text>
<rect x="478.7" y="457.3" width="16.51" height="15" fill="#fff"/>
<text transform="translate(480.7 468.3) scale(1 1.07)" font-size="9">0,1</text>
<rect x="478.7" y="591.7" width="23.4" height="15.5" fill="#fff"/>
<text transform="translate(481.9 602.7) scale(1 1.07)" font-size="9">K/W</text>
<rect x="475.6" y="356.9" width="252.1" height="262.4" fill="none" stroke="#000" stroke-width="1.3"/>
<text transform="translate(465.7 361) scale(1 1.07)" font-size="11.5" text-anchor="end">1600</text>
<text transform="translate(465.7 426.6) scale(1 1.07)" font-size="11.5" text-anchor="end">1200</text>
<text transform="translate(465.7 492.2) scale(1 1.07)" font-size="11.5" text-anchor="end">800</text>
<text transform="translate(465.7 557.8) scale(1 1.07)" font-size="11.5" text-anchor="end">400</text>
<text transform="translate(465.7 623.4) scale(1 1.07)" font-size="11.5" text-anchor="end">0</text>
<text transform="translate(457 381.5) scale(1 1.07)" font-size="11.5" text-anchor="middle">W</text>
<text transform="translate(443.8 597) scale(1 1.07)" font-size="11">P</text>
<text transform="translate(451.64 599.6) scale(1 1.07)" font-size="8.2">Vtot</text>
<text transform="translate(475.6 639.5) scale(1 1.07)" font-size="11.5" text-anchor="middle">0</text>
<text transform="translate(514.2 639.5) scale(1 1.07)" font-size="11.5">T</text>
<text transform="translate(521.53 642.3) scale(1 1.07)" font-size="8.5">a</text>
<text transform="translate(559.63 639.5) scale(1 1.07)" font-size="11.5" text-anchor="middle">50</text>
<text transform="translate(643.67 639.5) scale(1 1.07)" font-size="11.5" text-anchor="middle">100</text>
<text transform="translate(727.7 639.5) scale(1 1.07)" font-size="11.5" text-anchor="middle">150</text>
<text transform="translate(692 639.5) scale(1 1.07)" font-size="11.5" text-anchor="middle">°<tspan dx="-1">C</tspan></text>
<line x1="727.7" y1="619.3" x2="732.2" y2="619.3" stroke="#000" stroke-width="1"/>
<text transform="translate(736.7 623.4) scale(1 1.07)" font-size="11.5">135</text>
<line x1="727.7" y1="586.5" x2="732.2" y2="586.5" stroke="#000" stroke-width="1"/>
<text transform="translate(736.7 590.6) scale(1 1.07)" font-size="11.5">128</text>
<line x1="727.7" y1="553.7" x2="732.2" y2="553.7" stroke="#000" stroke-width="1"/>
<text transform="translate(736.7 557.8) scale(1 1.07)" font-size="11.5">121</text>
<line x1="727.7" y1="520.9" x2="732.2" y2="520.9" stroke="#000" stroke-width="1"/>
<text transform="translate(736.7 525) scale(1 1.07)" font-size="11.5">114</text>
<line x1="727.7" y1="488.1" x2="732.2" y2="488.1" stroke="#000" stroke-width="1"/>
<text transform="translate(736.7 492.2) scale(1 1.07)" font-size="11.5">106</text>
<line x1="727.7" y1="455.3" x2="732.2" y2="455.3" stroke="#000" stroke-width="1"/>
<text transform="translate(736.7 459.4) scale(1 1.07)" font-size="11.5">99</text>
<line x1="727.7" y1="422.5" x2="732.2" y2="422.5" stroke="#000" stroke-width="1"/>
<text transform="translate(736.7 426.6) scale(1 1.07)" font-size="11.5">92</text>
<line x1="727.7" y1="389.7" x2="732.2" y2="389.7" stroke="#000" stroke-width="1"/>
<text transform="translate(736.7 393.8) scale(1 1.07)" font-size="11.5">85</text>
<line x1="727.7" y1="356.9" x2="732.2" y2="356.9" stroke="#000" stroke-width="1"/>
<text transform="translate(736.7 361) scale(1 1.07)" font-size="11.5">78</text>
<text transform="translate(736.5 373.5) scale(1 1.07)" font-size="11.5">T</text>
<text transform="translate(743.83 376.3) scale(1 1.07)" font-size="8.5">c</text>
<text transform="translate(736.2 605.4) scale(1 1.07)" font-size="11.5">°<tspan dx="-1">C</tspan></text>
<rect x="3" y="981" width="383" height="24" fill="#dedede"/>
<rect x="2.5" y="685.5" width="384" height="320" fill="none" stroke="#000" stroke-width="1"/>
<text transform="translate(7.7 995.6) scale(1 1.04)" font-size="11.7">Fig. 3L Power dissipation of two modules vs. direct current</text>
<text transform="translate(333.6 692.5) scale(1 1.07)" font-size="7" text-anchor="end">SKKT570.xls-3L</text>
<line x1="94.14" y1="696.6" x2="94.14" y2="957.3" stroke="#000" stroke-width="1.1" stroke-opacity="0.75"/>
<line x1="111.28" y1="696.6" x2="111.28" y2="957.3" stroke="#000" stroke-width="1.1" stroke-opacity="0.75"/>
<line x1="128.42" y1="696.6" x2="128.42" y2="957.3" stroke="#000" stroke-width="1.1" stroke-opacity="0.75"/>
<line x1="145.56" y1="696.6" x2="145.56" y2="957.3" stroke="#000" stroke-width="1.1" stroke-opacity="0.75"/>
<line x1="162.7" y1="696.6" x2="162.7" y2="957.3" stroke="#000" stroke-width="1.1" stroke-opacity="0.75"/>
<line x1="179.84" y1="696.6" x2="179.84" y2="957.3" stroke="#000" stroke-width="1.1" stroke-opacity="0.75"/>
<line x1="196.98" y1="696.6" x2="196.98" y2="957.3" stroke="#000" stroke-width="1.1" stroke-opacity="0.75"/>
<line x1="214.12" y1="696.6" x2="214.12" y2="957.3" stroke="#000" stroke-width="1.1" stroke-opacity="0.75"/>
<line x1="231.26" y1="696.6" x2="231.26" y2="957.3" stroke="#000" stroke-width="1.1" stroke-opacity="0.75"/>
<line x1="248.4" y1="696.6" x2="248.4" y2="957.3" stroke="#000" stroke-width="1.1" stroke-opacity="0.75"/>
<line x1="265.54" y1="696.6" x2="265.54" y2="957.3" stroke="#000" stroke-width="1.1" stroke-opacity="0.75"/>
<line x1="282.68" y1="696.6" x2="282.68" y2="957.3" stroke="#000" stroke-width="1.1" stroke-opacity="0.75"/>
<line x1="299.82" y1="696.6" x2="299.82" y2="957.3" stroke="#000" stroke-width="1.1" stroke-opacity="0.75"/>
<line x1="316.96" y1="696.6" x2="316.96" y2="957.3" stroke="#000" stroke-width="1.1" stroke-opacity="0.75"/>
<line x1="77" y1="715.22" x2="334.1" y2="715.22" stroke="#000" stroke-width="1.1" stroke-opacity="0.75"/>
<line x1="77" y1="733.84" x2="334.1" y2="733.84" stroke="#000" stroke-width="1.1" stroke-opacity="0.75"/>
<line x1="77" y1="752.46" x2="334.1" y2="752.46" stroke="#000" stroke-width="1.1" stroke-opacity="0.75"/>
<line x1="77" y1="771.09" x2="334.1" y2="771.09" stroke="#000" stroke-width="1.1" stroke-opacity="0.75"/>
<line x1="77" y1="789.71" x2="334.1" y2="789.71" stroke="#000" stroke-width="1.1" stroke-opacity="0.75"/>
<line x1="77" y1="808.33" x2="334.1" y2="808.33" stroke="#000" stroke-width="1.1" stroke-opacity="0.75"/>
<line x1="77" y1="826.95" x2="334.1" y2="826.95" stroke="#000" stroke-width="1.1" stroke-opacity="0.75"/>
<line x1="77" y1="845.57" x2="334.1" y2="845.57" stroke="#000" stroke-width="1.1" stroke-opacity="0.75"/>
<line x1="77" y1="864.19" x2="334.1" y2="864.19" stroke="#000" stroke-width="1.1" stroke-opacity="0.75"/>
<line x1="77" y1="882.81" x2="334.1" y2="882.81" stroke="#000" stroke-width="1.1" stroke-opacity="0.75"/>
<line x1="77" y1="901.44" x2="334.1" y2="901.44" stroke="#000" stroke-width="1.1" stroke-opacity="0.75"/>
<line x1="77" y1="920.06" x2="334.1" y2="920.06" stroke="#000" stroke-width="1.1" stroke-opacity="0.75"/>
<line x1="77" y1="938.68" x2="334.1" y2="938.68" stroke="#000" stroke-width="1.1" stroke-opacity="0.75"/>
<path d="M77 957.3 L79.53 955.35 L82.07 953.39 L84.6 951.42 L87.13 949.44 L89.67 947.45 L92.2 945.45 L94.73 943.44 L97.26 941.42 L99.8 939.38 L102.33 937.33 L104.86 935.27 L107.4 933.2 L109.93 931.11 L112.46 929.01 L115 926.89 L117.53 924.75 L120.06 922.61 L122.59 920.44 L125.13 918.26 L127.66 916.06 L130.19 913.85 L132.73 911.61 L135.26 909.36 L137.79 907.09 L140.33 904.8 L142.86 902.49 L145.39 900.16 L147.92 897.81 L150.46 895.44 L152.99 893.05 L155.52 890.63 L158.06 888.19 L160.59 885.73 L163.12 883.25 L165.66 880.74 L168.19 878.21 L170.72 875.66 L173.26 873.08 L175.79 870.47 L178.32 867.84 L180.85 865.18 L183.39 862.5 L185.92 859.78 L188.45 857.04 L190.99 854.28 L193.52 851.48 L196.05 848.65 L198.59 845.8 L201.12 842.91 L203.65 840 L206.18 837.05 L208.72 834.07 L211.25 831.07 L213.78 828.02 L216.32 824.95 L218.85 821.84 L221.38 818.7 L223.92 815.53 L226.45 812.32 L228.98 809.08 L231.51 805.8 L234.05 802.48 L236.58 799.13 L239.11 795.75 L241.65 792.32 L244.18 788.86 L246.71 785.36 L249.25 781.82 L251.78 778.25 L254.31 774.63 L256.85 770.98 L259.38 767.28 L261.91 763.55 L264.44 759.77 L266.98 755.95 L269.51 752.09 L272.04 748.19 L274.58 744.24 L277.11 740.25" fill="none" stroke="#000" stroke-width="1.4" stroke-linejoin="round"/>
<path d="M77 957.3 L79.82 955.1 L82.64 952.89 L85.46 950.68 L88.27 948.45 L91.09 946.21 L93.91 943.96 L96.73 941.7 L99.55 939.42 L102.37 937.14 L105.18 934.84 L108 932.53 L110.82 930.2 L113.64 927.86 L116.46 925.51 L119.28 923.15 L122.09 920.76 L124.91 918.37 L127.73 915.96 L130.55 913.53 L133.37 911.08 L136.19 908.62 L139 906.14 L141.82 903.65 L144.64 901.14 L147.46 898.61 L150.28 896.06 L153.1 893.49 L155.91 890.9 L158.73 888.3 L161.55 885.67 L164.37 883.02 L167.19 880.36 L170.01 877.67 L172.82 874.96 L175.64 872.23 L178.46 869.48 L181.28 866.7 L184.1 863.91 L186.92 861.08 L189.73 858.24 L192.55 855.37 L195.37 852.48 L198.19 849.56 L201.01 846.62 L203.83 843.65 L206.64 840.66 L209.46 837.64 L212.28 834.6 L215.1 831.53 L217.92 828.43 L220.74 825.3 L223.55 822.15 L226.37 818.97 L229.19 815.76 L232.01 812.52 L234.83 809.25 L237.65 805.95 L240.46 802.62 L243.28 799.26 L246.1 795.87 L248.92 792.45 L251.74 789 L254.56 785.52 L257.37 782 L260.19 778.45 L263.01 774.87 L265.83 771.26 L268.65 767.61 L271.47 763.93 L274.28 760.21 L277.1 756.46 L279.92 752.68 L282.74 748.86 L285.56 745 L288.38 741.11 L291.19 737.18 L294.01 733.21 L296.83 729.21 L299.65 725.17" fill="none" stroke="#000" stroke-width="1.4" stroke-linejoin="round"/>
<rect x="85" y="703.7" width="97.5" height="41.8" fill="#fff"/>
<text x="88.8" y="718.8" font-size="14" font-weight="bold">2 • SKKT 570</text>
<text x="88.8" y="738" font-size="14" font-weight="bold">2 • SKKH 570</text>
<rect x="245.5" y="734" width="18" height="17.8" fill="#fff"/>
<rect x="283.5" y="751.8" width="16" height="20.5" fill="#fff"/>
<text transform="translate(249.7 748.1) scale(1 1.07)" font-size="11.5">R</text>
<text transform="translate(287.5 764.7) scale(1 1.07)" font-size="11.5">L</text>
<rect x="77" y="696.6" width="257.1" height="260.7" fill="none" stroke="#000" stroke-width="1.3"/>
<text transform="translate(68.5 700.7) scale(1 1.07)" font-size="11.5" text-anchor="end">3500</text>
<text transform="translate(68.5 737.94) scale(1 1.07)" font-size="11.5" text-anchor="end">3000</text>
<text transform="translate(68.5 775.19) scale(1 1.07)" font-size="11.5" text-anchor="end">2500</text>
<text transform="translate(68.5 812.43) scale(1 1.07)" font-size="11.5" text-anchor="end">2000</text>
<text transform="translate(68.5 849.67) scale(1 1.07)" font-size="11.5" text-anchor="end">1500</text>
<text transform="translate(68.5 886.91) scale(1 1.07)" font-size="11.5" text-anchor="end">1000</text>
<text transform="translate(68.5 924.16) scale(1 1.07)" font-size="11.5" text-anchor="end">500</text>
<text transform="translate(68.5 961.4) scale(1 1.07)" font-size="11.5" text-anchor="end">0</text>
<text transform="translate(61 717.8) scale(1 1.07)" font-size="11.5" text-anchor="middle">W</text>
<text transform="translate(47.9 944) scale(1 1.07)" font-size="11">P</text>
<text transform="translate(55.74 946.6) scale(1 1.07)" font-size="8.2">Vtot</text>
<text transform="translate(77 978.6) scale(1 1.07)" font-size="11.5" text-anchor="middle">0</text>
<text transform="translate(96.8 978.6) scale(1 1.07)" font-size="11">I</text>
<text transform="translate(100.36 981.4) scale(1 1.07)" font-size="8.5">D</text>
<text transform="translate(162.7 978.6) scale(1 1.07)" font-size="11.5" text-anchor="middle">500</text>
<text transform="translate(248.4 978.6) scale(1 1.07)" font-size="11.5" text-anchor="middle">1000</text>
<text transform="translate(334.1 978.6) scale(1 1.07)" font-size="11.5" text-anchor="middle">1500</text>
<text transform="translate(303 978.6) scale(1 1.07)" font-size="11.5" text-anchor="middle">A</text>
<rect x="407" y="981" width="383" height="24" fill="#dedede"/>
<rect x="406.5" y="685.5" width="384" height="320" fill="none" stroke="#000" stroke-width="1"/>
<text transform="translate(410.8 995.6) scale(1 1.04)" font-size="11.7">Fig. 3R Power dissipation of two modules vs. case temp.</text>
<text transform="translate(723.1 692.3) scale(1 1.07)" font-size="7" text-anchor="end">SKKT570.xls-3R</text>
<line x1="494.41" y1="693.6" x2="494.41" y2="955.8" stroke="#000" stroke-width="1.1" stroke-opacity="0.75"/>
<line x1="510.91" y1="693.6" x2="510.91" y2="955.8" stroke="#000" stroke-width="1.1" stroke-opacity="0.75"/>
<line x1="527.42" y1="693.6" x2="527.42" y2="955.8" stroke="#000" stroke-width="1.1" stroke-opacity="0.75"/>
<line x1="543.93" y1="693.6" x2="543.93" y2="955.8" stroke="#000" stroke-width="1.1" stroke-opacity="0.75"/>
<line x1="560.43" y1="693.6" x2="560.43" y2="955.8" stroke="#000" stroke-width="1.1" stroke-opacity="0.75"/>
<line x1="576.94" y1="693.6" x2="576.94" y2="955.8" stroke="#000" stroke-width="1.1" stroke-opacity="0.75"/>
<line x1="593.45" y1="693.6" x2="593.45" y2="955.8" stroke="#000" stroke-width="1.1" stroke-opacity="0.75"/>
<line x1="609.95" y1="693.6" x2="609.95" y2="955.8" stroke="#000" stroke-width="1.1" stroke-opacity="0.75"/>
<line x1="626.46" y1="693.6" x2="626.46" y2="955.8" stroke="#000" stroke-width="1.1" stroke-opacity="0.75"/>
<line x1="642.97" y1="693.6" x2="642.97" y2="955.8" stroke="#000" stroke-width="1.1" stroke-opacity="0.75"/>
<line x1="659.47" y1="693.6" x2="659.47" y2="955.8" stroke="#000" stroke-width="1.1" stroke-opacity="0.75"/>
<line x1="675.98" y1="693.6" x2="675.98" y2="955.8" stroke="#000" stroke-width="1.1" stroke-opacity="0.75"/>
<line x1="692.49" y1="693.6" x2="692.49" y2="955.8" stroke="#000" stroke-width="1.1" stroke-opacity="0.75"/>
<line x1="708.99" y1="693.6" x2="708.99" y2="955.8" stroke="#000" stroke-width="1.1" stroke-opacity="0.75"/>
<line x1="477.9" y1="712.83" x2="725.5" y2="712.83" stroke="#000" stroke-width="1.1" stroke-opacity="0.75"/>
<line x1="477.9" y1="731.56" x2="725.5" y2="731.56" stroke="#000" stroke-width="1.1" stroke-opacity="0.75"/>
<line x1="477.9" y1="750.29" x2="725.5" y2="750.29" stroke="#000" stroke-width="1.1" stroke-opacity="0.75"/>
<line x1="477.9" y1="769.01" x2="725.5" y2="769.01" stroke="#000" stroke-width="1.1" stroke-opacity="0.75"/>
<line x1="477.9" y1="787.74" x2="725.5" y2="787.74" stroke="#000" stroke-width="1.1" stroke-opacity="0.75"/>
<line x1="477.9" y1="806.47" x2="725.5" y2="806.47" stroke="#000" stroke-width="1.1" stroke-opacity="0.75"/>
<line x1="477.9" y1="825.2" x2="725.5" y2="825.2" stroke="#000" stroke-width="1.1" stroke-opacity="0.75"/>
<line x1="477.9" y1="843.93" x2="725.5" y2="843.93" stroke="#000" stroke-width="1.1" stroke-opacity="0.75"/>
<line x1="477.9" y1="862.66" x2="725.5" y2="862.66" stroke="#000" stroke-width="1.1" stroke-opacity="0.75"/>
<line x1="477.9" y1="881.39" x2="725.5" y2="881.39" stroke="#000" stroke-width="1.1" stroke-opacity="0.75"/>
<line x1="477.9" y1="900.11" x2="725.5" y2="900.11" stroke="#000" stroke-width="1.1" stroke-opacity="0.75"/>
<line x1="477.9" y1="918.84" x2="725.5" y2="918.84" stroke="#000" stroke-width="1.1" stroke-opacity="0.75"/>
<line x1="477.9" y1="937.57" x2="725.5" y2="937.57" stroke="#000" stroke-width="1.1" stroke-opacity="0.75"/>
<clipPath id="c3r"><rect x="477.9" y="693.6" width="247.6" height="262.2"/></clipPath>
<path d="M538.97 693.6 L700.74 955.8" fill="none" stroke="#000" stroke-width="1.4" stroke-linejoin="round" clip-path="url(#c3r)"/>
<path d="M510.09 693.6 L700.74 955.8" fill="none" stroke="#000" stroke-width="1.4" stroke-linejoin="round" clip-path="url(#c3r)"/>
<path d="M481.2 693.6 L700.74 955.8" fill="none" stroke="#000" stroke-width="1.4" stroke-linejoin="round" clip-path="url(#c3r)"/>
<path d="M477.9 720.6 L700.74 955.8" fill="none" stroke="#000" stroke-width="1.4" stroke-linejoin="round" clip-path="url(#c3r)"/>
<path d="M477.9 745.1 L700.74 955.8" fill="none" stroke="#000" stroke-width="1.4" stroke-linejoin="round" clip-path="url(#c3r)"/>
<path d="M477.9 764.98 L700.74 955.8" fill="none" stroke="#000" stroke-width="1.4" stroke-linejoin="round" clip-path="url(#c3r)"/>
<path d="M477.9 781.43 L700.74 955.8" fill="none" stroke="#000" stroke-width="1.4" stroke-linejoin="round" clip-path="url(#c3r)"/>
<path d="M477.9 795.27 L700.74 955.8" fill="none" stroke="#000" stroke-width="1.4" stroke-linejoin="round" clip-path="url(#c3r)"/>
<path d="M477.9 807.07 L700.74 955.8" fill="none" stroke="#000" stroke-width="1.4" stroke-linejoin="round" clip-path="url(#c3r)"/>
<path d="M477.9 829.38 L700.74 955.8" fill="none" stroke="#000" stroke-width="1.4" stroke-linejoin="round" clip-path="url(#c3r)"/>
<path d="M477.9 847.05 L700.74 955.8" fill="none" stroke="#000" stroke-width="1.4" stroke-linejoin="round" clip-path="url(#c3r)"/>
<path d="M477.9 870.09 L700.74 955.8" fill="none" stroke="#000" stroke-width="1.4" stroke-linejoin="round" clip-path="url(#c3r)"/>
<path d="M477.9 885.08 L700.74 955.8" fill="none" stroke="#000" stroke-width="1.4" stroke-linejoin="round" clip-path="url(#c3r)"/>
<path d="M477.9 895.6 L700.74 955.8" fill="none" stroke="#000" stroke-width="1.4" stroke-linejoin="round" clip-path="url(#c3r)"/>
<path d="M477.9 909.41 L700.74 955.8" fill="none" stroke="#000" stroke-width="1.4" stroke-linejoin="round" clip-path="url(#c3r)"/>
<rect x="485.7" y="695.8" width="22.9" height="16" fill="#fff"/>
<text transform="translate(488.2 706.7) scale(1 1.07)" font-size="9.2">0,02</text>
<rect x="513.7" y="695.8" width="28.02" height="16" fill="#fff"/>
<text transform="translate(516.2 706.7) scale(1 1.07)" font-size="9.2">0,015</text>
<rect x="541.7" y="695.8" width="22.9" height="16" fill="#fff"/>
<text transform="translate(544.2 706.7) scale(1 1.07)" font-size="9.2">0,01</text>
<rect x="572" y="695.8" width="29.5" height="17.8" fill="#fff"/>
<text transform="translate(575.5 706.2) scale(1 1.07)" font-size="9.2">R</text>
<text transform="translate(582.34 708.6) scale(1 1.07)" font-size="5.5">th(c-a)</text>
<rect x="480.4" y="720.9" width="27.02" height="15.5" fill="#fff"/>
<text transform="translate(482.4 732.4) scale(1 1.07)" font-size="9.2">0,025</text>
<rect x="480.4" y="746.3" width="21.9" height="15.5" fill="#fff"/>
<text transform="translate(482.4 757.8) scale(1 1.07)" font-size="9.2">0,03</text>
<rect x="480.4" y="764.8" width="27.02" height="15.5" fill="#fff"/>
<text transform="translate(482.4 776.3) scale(1 1.07)" font-size="9.2">0,035</text>
<rect x="480.4" y="781.5" width="21.9" height="15.5" fill="#fff"/>
<text transform="translate(482.4 793) scale(1 1.07)" font-size="9.2">0,04</text>
<rect x="480.4" y="798.1" width="27.02" height="15.5" fill="#fff"/>
<text transform="translate(482.4 809.6) scale(1 1.07)" font-size="9.2">0,045</text>
<rect x="480.4" y="814.1" width="21.9" height="15.5" fill="#fff"/>
<text transform="translate(482.4 825.6) scale(1 1.07)" font-size="9.2">0,05</text>
<rect x="480.4" y="830.8" width="27.02" height="15.5" fill="#fff"/>
<text transform="translate(482.4 842.3) scale(1 1.07)" font-size="9.2">0,062</text>
<rect x="480.4" y="843.8" width="27.02" height="15.5" fill="#fff"/>
<text transform="translate(482.4 855.3) scale(1 1.07)" font-size="9.2">0,075</text>
<rect x="480.4" y="879.6" width="27.02" height="15.5" fill="#fff"/>
<text transform="translate(482.4 891.1) scale(1 1.07)" font-size="9.2">0,125</text>
<rect x="480.4" y="892.7" width="21.9" height="15.5" fill="#fff"/>
<text transform="translate(482.4 904.2) scale(1 1.07)" font-size="9.2">0,15</text>
<rect x="480.4" y="909.4" width="16.79" height="15.5" fill="#fff"/>
<text transform="translate(482.4 920.9) scale(1 1.07)" font-size="9.2">0,2</text>
<rect x="480.7" y="863.5" width="16.79" height="15.5" fill="#fff"/>
<text transform="translate(482.7 875) scale(1 1.07)" font-size="9.2">0,1</text>
<rect x="479.2" y="926.5" width="24.38" height="15.5" fill="#fff"/>
<text transform="translate(482.7 937.5) scale(1 1.07)" font-size="9.2">K/W</text>
<rect x="477.9" y="693.6" width="247.6" height="262.2" fill="none" stroke="#000" stroke-width="1.3"/>
<text transform="translate(467.7 697.7) scale(1 1.07)" font-size="11.5" text-anchor="end">3500</text>
<text transform="translate(467.7 735.16) scale(1 1.07)" font-size="11.5" text-anchor="end">3000</text>
<text transform="translate(467.7 772.61) scale(1 1.07)" font-size="11.5" text-anchor="end">2500</text>
<text transform="translate(467.7 810.07) scale(1 1.07)" font-size="11.5" text-anchor="end">2000</text>
<text transform="translate(467.7 847.53) scale(1 1.07)" font-size="11.5" text-anchor="end">1500</text>
<text transform="translate(467.7 884.99) scale(1 1.07)" font-size="11.5" text-anchor="end">1000</text>
<text transform="translate(467.7 922.44) scale(1 1.07)" font-size="11.5" text-anchor="end">500</text>
<text transform="translate(467.7 959.9) scale(1 1.07)" font-size="11.5" text-anchor="end">0</text>
<text transform="translate(458 718.8) scale(1 1.07)" font-size="11.5" text-anchor="middle">W</text>
<text transform="translate(448.7 936) scale(1 1.07)" font-size="11">P</text>
<text transform="translate(456.54 938.6) scale(1 1.07)" font-size="8.2">Vtot</text>
<text transform="translate(477.9 978.5) scale(1 1.07)" font-size="11.5" text-anchor="middle">0</text>
<text transform="translate(509.4 978.5) scale(1 1.07)" font-size="11.5">T</text>
<text transform="translate(516.73 981.3) scale(1 1.07)" font-size="8.5">a</text>
<text transform="translate(560.43 978.5) scale(1 1.07)" font-size="11.5" text-anchor="middle">50</text>
<text transform="translate(642.97 978.5) scale(1 1.07)" font-size="11.5" text-anchor="middle">100</text>
<text transform="translate(725.5 978.5) scale(1 1.07)" font-size="11.5" text-anchor="middle">150</text>
<text transform="translate(680.5 978.5) scale(1 1.07)" font-size="11.5" text-anchor="middle">°<tspan dx="-1">C</tspan></text>
<clipPath id="cr3"><rect x="700" y="680" width="55.7" height="300"/></clipPath>
<line x1="725.5" y1="955.8" x2="730" y2="955.8" stroke="#888" stroke-width="0.8"/>
<g clip-path="url(#cr3)">
<text transform="translate(735.6 959.9) scale(1 1.03)" font-size="11.9">135</text>
</g>
<line x1="725.5" y1="918.34" x2="730" y2="918.34" stroke="#888" stroke-width="0.8"/>
<g clip-path="url(#cr3)">
<text transform="translate(735.6 922.44) scale(1 1.03)" font-size="11.9">127</text>
</g>
<line x1="725.5" y1="880.89" x2="730" y2="880.89" stroke="#888" stroke-width="0.8"/>
<g clip-path="url(#cr3)">
<text transform="translate(735.6 884.99) scale(1 1.03)" font-size="11.9">120</text>
</g>
<line x1="725.5" y1="843.43" x2="730" y2="843.43" stroke="#888" stroke-width="0.8"/>
<g clip-path="url(#cr3)">
<text transform="translate(735.6 847.53) scale(1 1.03)" font-size="11.9">112</text>
</g>
<line x1="725.5" y1="805.97" x2="730" y2="805.97" stroke="#888" stroke-width="0.8"/>
<g clip-path="url(#cr3)">
<text transform="translate(735.6 810.07) scale(1 1.03)" font-size="11.9">104</text>
</g>
<line x1="725.5" y1="768.51" x2="730" y2="768.51" stroke="#888" stroke-width="0.8"/>
<g clip-path="url(#cr3)">
<text transform="translate(735.6 772.61) scale(1 1.03)" font-size="11.9">96</text>
</g>
<line x1="725.5" y1="731.06" x2="730" y2="731.06" stroke="#888" stroke-width="0.8"/>
<g clip-path="url(#cr3)">
<text transform="translate(735.6 735.16) scale(1 1.03)" font-size="11.9">89</text>
</g>
<line x1="725.5" y1="693.6" x2="730" y2="693.6" stroke="#888" stroke-width="0.8"/>
<g clip-path="url(#cr3)">
<text transform="translate(735.6 697.7) scale(1 1.03)" font-size="11.9">81</text>
</g>
<text transform="translate(734.6 715.9) scale(1 1.07)" font-size="11.5">T</text>
<text transform="translate(741.93 718.7) scale(1 1.07)" font-size="8.5">c</text>
<text transform="translate(735 938.7) scale(1 1.07)" font-size="11.5">°<tspan dx="-1">C</tspan></text>
</svg>
</body></html>
